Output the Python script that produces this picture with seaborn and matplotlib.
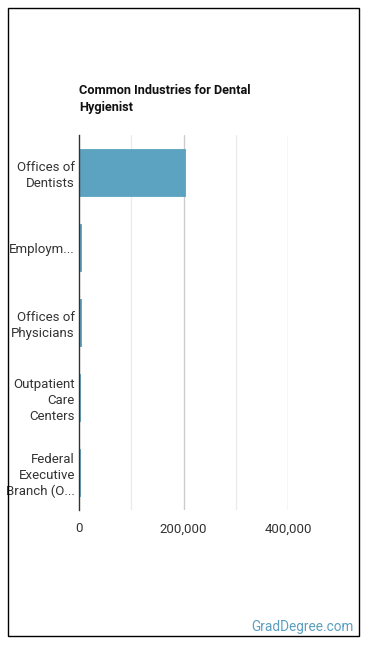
import matplotlib
matplotlib.use("Agg")
import matplotlib.pyplot as plt
import seaborn as sns
import pandas as pd
from matplotlib.patches import Rectangle
from matplotlib.ticker import FuncFormatter

categories = ["Offices of\nDentists", "Employm...", "Offices of\nPhysicians",
              "Outpatient\nCare\nCenters", "Federal\nExecutive\nBranch (O..."]
values = [203000, 4500, 3000, 2000, 1800]
xticks = [0, 200000, 400000]
title = "Common Industries for Dental\nHygienist"

sns.set_theme(style="white")
plt.rcParams["font.family"] = ["Roboto", "DejaVu Sans"]

df = pd.DataFrame({"industry": categories, "count": values})

fig = plt.figure(figsize=(3.7, 6.48), dpi=100)
ax = fig.add_axes([79/370, 1-510/648, (288-79)/370, (510-135)/648])

# gridlines
for v in [100000, 300000]:
    ax.axvline(v, color="#ebebeb", lw=1, zorder=0)
for v in [200000, 400000]:
    ax.axvline(v, color="#cccccc", lw=1, zorder=0)

sns.barplot(data=df, x="count", y="industry", color="#5ba3c1", saturation=1,
            width=0.63, ax=ax, zorder=2, edgecolor="#5ba3c1", linewidth=0.6)

ax.set_xlim(0, 400000)
ax.set_ylim(4.5, -0.5)
ax.set_xticks(xticks)
ax.xaxis.set_major_formatter(FuncFormatter(lambda v, p: f"{int(v):,}"))
ax.set_xlabel("")
ax.set_ylabel("")
for s in ["top", "right", "bottom"]:
    ax.spines[s].set_visible(False)
ax.spines["left"].set_color("#333333")
ax.spines["left"].set_linewidth(1)
ax.spines["left"].set_zorder(3)
ax.tick_params(axis="both", length=0, labelsize=9.5, colors="#333333")
ax.tick_params(axis="x", pad=9)
ax.tick_params(axis="y", pad=3)
for lab in ax.get_yticklabels():
    lab.set_horizontalalignment("right")
    lab.set_multialignment("right")
    lab.set_linespacing(1.3)

fig.text(79/370, 1-84/648, title, ha="left", va="top", fontsize=9.2,
         fontweight="bold", color="#111111", linespacing=1.35)
fig.text(354/370, 1-631/648, "GradDegree.com", ha="right", va="baseline",
         fontsize=9.8, color="#5b9fc0")

fig.patches.append(Rectangle((8/370, 1-636/648), (359-8)/370, (636-8)/648,
                             transform=fig.transFigure, fill=False,
                             edgecolor="black", lw=1))

fig.savefig("out.png", dpi=100)
